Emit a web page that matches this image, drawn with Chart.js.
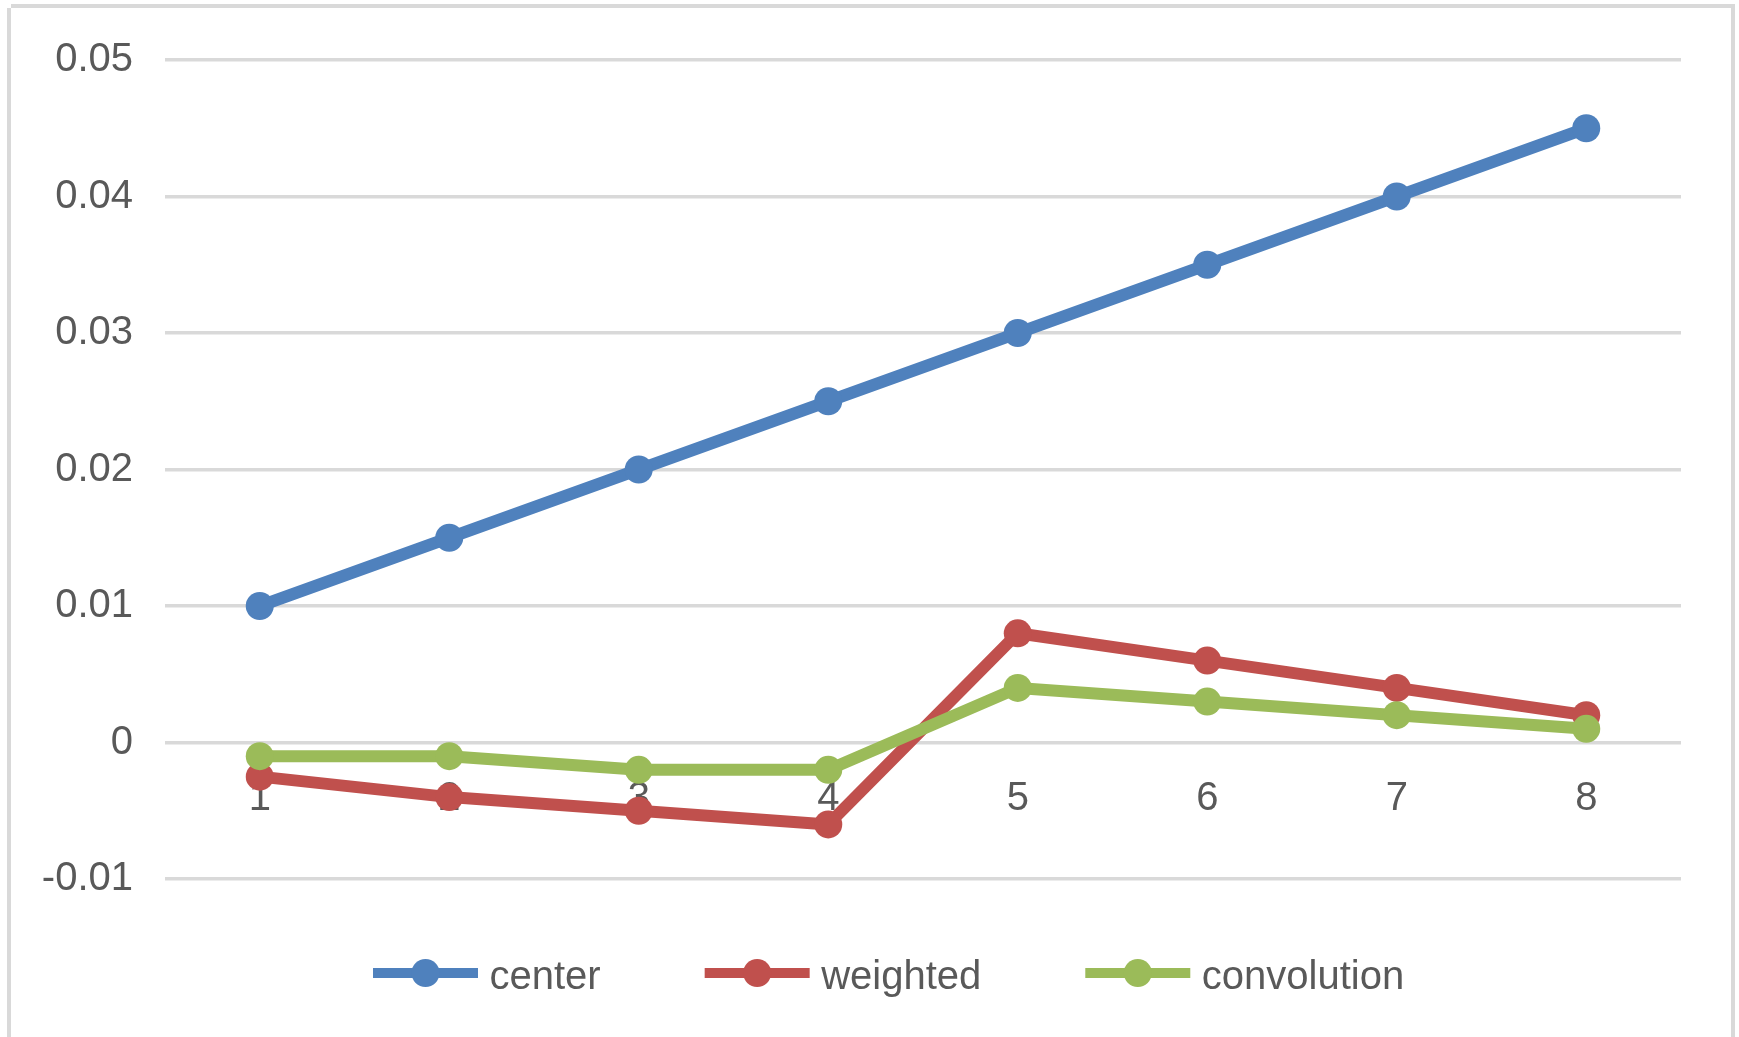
<!DOCTYPE html>
<html>
<head>
<meta charset="utf-8">
<title>center / weighted / convolution</title>
<script src="https://cdn.jsdelivr.net/npm/chart.js@4/dist/chart.umd.min.js"></script>
<style>
  html, body { margin: 0; padding: 0; background: #ffffff; }
  #wrap { position: relative; width: 1739px; height: 1037px; overflow: hidden; }
  canvas { display: block; }
</style>
</head>
<body>
<div id="wrap"><canvas id="chart" width="1739" height="1037"></canvas></div>
<script>
// Categories along the horizontal axis
const categories = ['1', '2', '3', '4', '5', '6', '7', '8'];

// Series values
const centerValues      = [0.010, 0.015, 0.020, 0.025, 0.030, 0.035, 0.040, 0.045];
const weightedValues    = [-0.0025, -0.004, -0.005, -0.006, 0.008, 0.006, 0.004, 0.002];
const convolutionValues = [-0.001, -0.001, -0.002, -0.002, 0.004, 0.003, 0.002, 0.001];

// Value-axis tick labels, bottom to top
const yTickLabels = ['-0.01', '0', '0.01', '0.02', '0.03', '0.04', '0.05'];

const seriesNames = ['center', 'weighted', 'convolution'];
const seriesColors = ['#4f81bd', '#c0504d', '#9bbb59'];

const FONT = '"Liberation Sans", Arial, "DejaVu Sans", sans-serif';
const TEXT_COLOR = '#595959';
const GRID_COLOR = '#d9d9d9';

function lineSeries(label, data, color, order) {
  return {
    label: label,
    data: data,
    borderColor: color,
    backgroundColor: color,
    borderWidth: 12,
    borderJoinStyle: 'round',
    borderCapStyle: 'round',
    tension: 0,
    pointRadius: 14,
    pointHoverRadius: 14,
    pointBorderWidth: 0,
    pointBackgroundColor: color,
    pointStyle: 'circle',
    order: order
  };
}

// Outer frame of the chart
const framePlugin = {
  id: 'frame',
  afterDraw(chart) {
    const ctx = chart.ctx;
    ctx.save();
    ctx.fillStyle = GRID_COLOR;
    ctx.fillRect(11, 4, 1724, 4);      // top edge
    ctx.fillRect(7, 8, 4, 1029);       // left edge
    ctx.fillRect(1731, 8, 4, 1029);    // right edge
    ctx.restore();
  }
};

// Legend with a line-and-marker swatch for each series, laid out in one row
const lineLegendPlugin = {
  id: 'lineLegend',
  afterDraw(chart) {
    const ctx = chart.ctx;
    const cy = 973;
    const baseline = 989;
    const lineLen = 105;
    const textGap = 11.5;
    const itemGap = 104;
    let x = 373;
    ctx.save();
    ctx.font = '40px ' + FONT;
    chart.data.datasets.forEach(ds => {
      ctx.strokeStyle = ds.borderColor;
      ctx.lineWidth = 10;
      ctx.lineCap = 'butt';
      ctx.beginPath();
      ctx.moveTo(x, cy);
      ctx.lineTo(x + lineLen, cy);
      ctx.stroke();
      ctx.fillStyle = ds.borderColor;
      ctx.beginPath();
      ctx.arc(x + lineLen / 2, cy, 14, 0, Math.PI * 2);
      ctx.fill();
      ctx.fillStyle = TEXT_COLOR;
      ctx.textAlign = 'left';
      ctx.textBaseline = 'alphabetic';
      const tx = x + lineLen + textGap;
      ctx.fillText(ds.label, tx, baseline);
      x = tx + ctx.measureText(ds.label).width + itemGap;
    });
    ctx.restore();
  }
};

new Chart(document.getElementById('chart'), {
  type: 'line',
  data: {
    labels: categories,
    datasets: [
      lineSeries(seriesNames[0], centerValues, seriesColors[0], 3),
      lineSeries(seriesNames[1], weightedValues, seriesColors[1], 2),
      lineSeries(seriesNames[2], convolutionValues, seriesColors[2], 1)
    ]
  },
  options: {
    responsive: false,
    devicePixelRatio: 1,
    animation: false,
    layout: { padding: { left: 0, right: 58, top: 60, bottom: 158 } },
    plugins: {
      legend: { display: false },
      tooltip: { enabled: false },
      title: { display: false }
    },
    scales: {
      x: {
        type: 'category',
        position: { y: 0 },
        offset: true,
        grid: { display: false, drawTicks: false },
        border: { display: false },
        ticks: {
          padding: 32,
          color: TEXT_COLOR,
          font: { family: FONT, size: 40 },
          maxRotation: 0,
          autoSkip: false
        }
      },
      y: {
        type: 'linear',
        min: -0.01,
        max: 0.05,
        afterFit(scale) { scale.width = 165; },
        grid: { color: GRID_COLOR, lineWidth: 3.5, drawTicks: false },
        border: { display: false },
        ticks: {
          stepSize: 0.01,
          padding: 32,
          color: TEXT_COLOR,
          font: { family: FONT, size: 40 },
          callback: (value, index) => yTickLabels[index]
        }
      }
    }
  },
  plugins: [framePlugin, lineLegendPlugin]
});
</script>
</body>
</html>
